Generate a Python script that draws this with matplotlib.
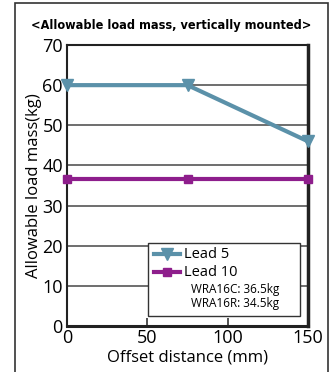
import matplotlib
matplotlib.use("Agg")
import matplotlib.pyplot as plt
from matplotlib.patches import Rectangle
from matplotlib.lines import Line2D

offset_mm = [0, 75, 150]
lead5_kg = [60, 60, 46]
lead10_kg = [36.5, 36.5, 36.5]
x_ticks = [0, 50, 100, 150]
y_ticks = [0, 10, 20, 30, 40, 50, 60, 70]

BLUE = "#5b91a9"
PURPLE = "#8e1e8c"

plt.rcParams["font.family"] = ["Open Sans", "DejaVu Sans"]

fig = plt.figure(figsize=(3.31, 3.72), dpi=100)
W, H = 331, 372

# outer frame (open at the bottom edge)
fig.patches.append(Rectangle((15 / W, -5 / H), 313 / W, 374 / H, transform=fig.transFigure,
                             fill=False, edgecolor="#333333", linewidth=1.2))

ax = fig.add_axes([67 / W, 1 - 326 / H, 241 / W, 281 / H])
ax.set_xlim(0, 150)
ax.set_ylim(0, 70)

for y in y_ticks[1:-1]:
    ax.axhline(y, color="#555555", linewidth=1.2, zorder=1)

ax.plot(offset_mm, lead5_kg, color=BLUE, linewidth=3, marker="v", markersize=8,
        clip_on=False, zorder=3)
ax.plot(offset_mm, lead10_kg, color=PURPLE, linewidth=3, marker="s", markersize=6,
        clip_on=False, zorder=3)

ax.set_xticks(x_ticks)
ax.set_yticks(y_ticks)
ax.tick_params(axis="x", direction="in", length=6, width=1.2, color="#333333",
               labelsize=13, pad=2)
ax.tick_params(axis="y", length=0, labelsize=13, pad=3)
for s in ax.spines.values():
    s.set_linewidth(1.5)
    s.set_color("#222222")
ax.spines["right"].set_linewidth(2.5)
ax.spines["bottom"].set_linewidth(2.2)

ax.set_xlabel("Offset distance (mm)", fontsize=12, labelpad=2)
ax.set_ylabel("Allowable load mass(kg)", fontsize=12, labelpad=0)

fig.text(171 / W, 1 - 26 / H, "<Allowable load mass, vertically mounted>",
         ha="center", va="center", fontsize=9.1, fontweight="bold",
         family=["DejaVu Sans"], fontstretch="condensed")

# legend box
lx0, ly0, lx1, ly1 = 148, 243, 300, 316
fig.patches.append(Rectangle((lx0 / W, 1 - ly1 / H), (lx1 - lx0) / W, (ly1 - ly0) / H,
                             transform=fig.transFigure, facecolor="white",
                             edgecolor="#333333", linewidth=1.0, zorder=5))
fig.lines.append(Line2D([154 / W, 180 / W], [1 - 254 / H] * 2, transform=fig.transFigure,
                        color=BLUE, linewidth=3, zorder=6))
fig.lines.append(Line2D([167 / W], [1 - 254 / H], transform=fig.transFigure, color=BLUE,
                        marker="v", markersize=8, zorder=6))
fig.lines.append(Line2D([154 / W, 180 / W], [1 - 272 / H] * 2, transform=fig.transFigure,
                        color=PURPLE, linewidth=3, zorder=6))
fig.lines.append(Line2D([167 / W], [1 - 272 / H], transform=fig.transFigure, color=PURPLE,
                        marker="s", markersize=6, zorder=6))
fig.text(184 / W, 1 - 254 / H, "Lead 5", fontsize=10.5, va="center", zorder=7)
fig.text(184 / W, 1 - 272 / H, "Lead 10", fontsize=10.5, va="center", zorder=7)
fig.text(191 / W, 1 - 289 / H, "WRA16C: 36.5kg", fontsize=8.5, va="center", zorder=7)
fig.text(191 / W, 1 - 304 / H, "WRA16R: 34.5kg", fontsize=8.5, va="center", zorder=7)

fig.savefig("out.png", dpi=100)
